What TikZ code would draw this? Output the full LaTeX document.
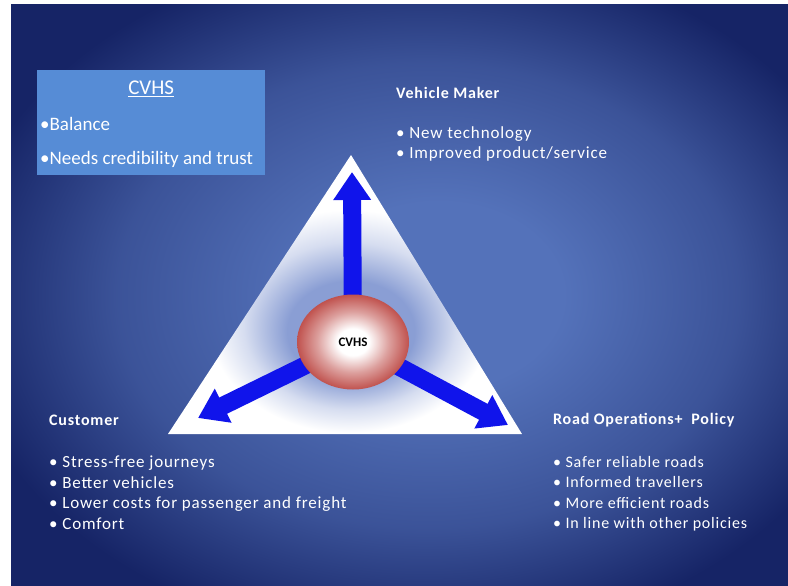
\documentclass[tikz,border=0pt]{standalone}
\usepackage{fontspec}
\setmainfont{Carlito}
\newfontfamily\slidefont{Carlito}[LetterSpace=5]
\usetikzlibrary{arrows.meta,positioning,shapes.geometric}

\definecolor{slidemid}{RGB}{84,114,186}
\definecolor{slidedark}{RGB}{22,36,102}
\definecolor{boxblue}{RGB}{86,140,214}
\definecolor{arrowblue}{RGB}{16,20,235}
\definecolor{ballred}{RGB}{192,82,78}
\definecolor{triblue}{RGB}{138,158,212}

\pgfdeclareradialshading{slideshade}{\pgfpoint{3bp}{0bp}}{color(0bp)=(slidemid); color(8bp)=(slidemid); color(20bp)=(slidemid!60!slidedark); color(30bp)=(slidedark); color(50bp)=(slidedark)}
\pgfdeclareradialshading{trishade}{\pgfpoint{1bp}{-8bp}}{color(0bp)=(triblue); color(9bp)=(triblue); color(15bp)=(triblue!35!white); color(20bp)=(white); color(50bp)=(white)}
\pgfdeclareradialshading{ballshade}{\pgfpoint{0bp}{0bp}}{color(0bp)=(white); color(7bp)=(white); color(16bp)=(ballred!55!white); color(25bp)=(ballred); color(50bp)=(ballred)}

\pgfdeclarelayer{back}
\pgfsetlayers{back,main}

\begin{document}
\begin{tikzpicture}[x=1pt,y=-1pt,
  heading/.style={text=white, font=\slidefont\fontsize{16}{18}\selectfont\bfseries, anchor=west, inner sep=0pt},
  bullets/.style={text=white, font=\slidefont\fontsize{17}{20.5}\selectfont, align=left, anchor=north west, inner sep=0pt},
  flow/.style={draw=arrowblue, line width=18pt, -{Triangle[length=28pt,width=36pt]}}]
  \useasboundingbox (0,0) rectangle (788,586);

  % CVHS ball and the three arrow ends
  \node (ball) [ellipse, shade, shading=ballshade, minimum width=112pt, minimum height=95pt] at (353,342) {\fontsize{13}{15}\selectfont\bfseries CVHS};
  \coordinate (vmtip) at (352,172);
  \coordinate (custtip) at (198,418);
  \coordinate (roadtip) at (508,425);

  \begin{pgfonlayer}{back}
    % slide and triangle
    \fill[white] (0,0) rectangle (788,586);
    \shade[shading=slideshade] (11,5) rectangle (788,586);
    \shade[shading=trishade] (351,155) -- (522,434) -- (168,434) -- cycle;
    % arrows out of the ball
    \draw[flow] (ball.center) -- (vmtip);
    \draw[flow] (ball.center) -- (custtip);
    \draw[flow] (ball.center) -- (roadtip);
  \end{pgfonlayer}

  % CVHS box
  \node (cvhsbox) [fill=boxblue, minimum width=228pt, minimum height=105pt, anchor=north west, inner sep=0pt] at (37,70) {};
  \node (boxtitle) [below=11pt of cvhsbox.north, text=white, inner sep=0pt, font=\fontsize{21}{24}\selectfont] {\underline{CVHS}};
  \node (boxlist) [text=white, anchor=north west, inner sep=0pt, align=left, font=\fontsize{19}{34}\selectfont] at (40,117) {•Balance\\•Needs credibility and trust};

  % Vehicle maker
  \node (vmhead) [heading] at (396,93) {Vehicle Maker};
  \node (vmlist) [bullets] at (396,126) {•\ New technology\\•\ Improved product/service};

  % Customer
  \node (custhead) [heading] at (49,420) {Customer};
  \node (custlist) [bullets] at (49,456) {•\ Stress-free journeys\\•\ Better vehicles\\•\ Lower costs for passenger and freight\\•\ Comfort};

  % Road operations
  \node (roadhead) [heading] at (553,420) {Road Operations+\ \ Policy};
  \node (roadlist) [bullets, font=\slidefont\fontsize{16}{20.5}\selectfont] at (553,456) {•\ Safer reliable roads\\•\ Informed travellers\\•\ More efficient roads\\•\ In line with other policies};
\end{tikzpicture}
\end{document}
